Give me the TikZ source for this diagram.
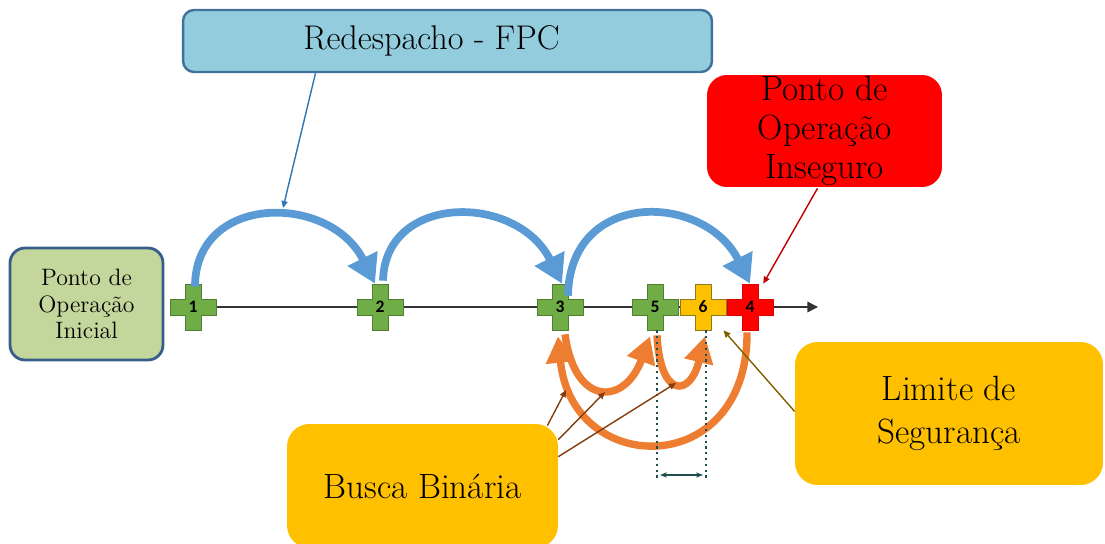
\documentclass[tikz,border=0pt]{standalone}
\usepackage{fontspec}
\newfontfamily\crossfont{Carlito}
\usepackage{tikz}
\usetikzlibrary{arrows.meta,calc,backgrounds}
\definecolor{FpcFill}{HTML}{93CDDD}
\definecolor{FpcDraw}{HTML}{41719C}
\definecolor{IniFill}{HTML}{C3D69B}
\definecolor{IniDraw}{HTML}{385D8A}
\definecolor{UnsafeRed}{HTML}{FF0000}
\definecolor{GoldBox}{HTML}{FFC000}
\definecolor{CrossGreen}{HTML}{70AD47}
\definecolor{CrossGreenDk}{HTML}{507E32}
\definecolor{CrossGold}{HTML}{FFC000}
\definecolor{CrossGoldDk}{HTML}{8C7A1E}
\definecolor{CrossRed}{HTML}{FF0000}
\definecolor{CrossRedDk}{HTML}{E00000}
\definecolor{ArcBlue}{HTML}{5B9BD5}
\definecolor{ArcOrange}{HTML}{ED7D31}
\definecolor{PtrBrown}{HTML}{843C0C}
\definecolor{PtrOlive}{HTML}{7F6000}
\definecolor{PtrRed}{HTML}{C00000}
\definecolor{PtrBlue}{HTML}{2E75B6}
\definecolor{DotTeal}{HTML}{1F4E4F}

\begin{document}
\begin{tikzpicture}[x=0.02cm, y=-0.02cm,
  every node/.style={text=black},
  box/.style={rectangle, rounded corners=0.3cm, align=center, inner sep=0pt},
  fpcbox/.style={box, fill=FpcFill, draw=FpcDraw, line width=1.4pt, rounded corners=0.22cm,
    minimum width=10.58cm, minimum height=1.24cm, font=\fontsize{19.5}{22}\selectfont},
  inibox/.style={box, fill=IniFill, draw=IniDraw, line width=1.6pt,
    minimum width=3.06cm, minimum height=2.24cm, font=\fontsize{13.5}{15}\selectfont},
  unsbox/.style={box, fill=UnsafeRed, rounded corners=0.4cm,
    minimum width=4.7cm, minimum height=2.24cm, font=\fontsize{20}{22}\selectfont},
  goldbox/.style={box, fill=GoldBox, rounded corners=0.45cm, font=\fontsize{20}{24.5}\selectfont},
  crossshape/.style={line width=0.5pt},
  crossnum/.style={inner sep=0pt, minimum size=0.92cm, font=\crossfont\bfseries\fontsize{10}{10}\selectfont},
  axis/.style={-{Triangle[width=6pt,length=6pt]}, line width=0.8pt, draw=black!80},
  bluearc/.style={-{Triangle[width=18pt,length=16pt]}, line width=4.4pt, draw=ArcBlue},
  orangearc/.style={-{Triangle[width=16pt,length=15pt]}, line width=4.2pt, draw=ArcOrange},
  pointer/.style={-{Triangle[width=3.5pt,length=4pt]}, line width=0.8pt},
  dots/.style={dotted, line width=1.3pt, draw=DotTeal},
  span/.style={{Stealth[length=4pt]}-{Stealth[length=4pt]}, line width=1pt, draw=DotTeal}
]
\useasboundingbox (0,0) rectangle (1105,544);

%% boxes
\node[fpcbox] (fpc) at (447.5,41) {Redespacho - FPC\hspace*{0.64cm}};
\node[inibox] (ini) at (86.5,304) {Ponto de\\Operação\\Inicial};
\node[unsbox] (uns) at (824.5,131) {Ponto de\\Operação\\Inseguro};
\node[goldbox, minimum width=6.16cm, minimum height=2.86cm] (lim) at (949,413.5) {Limite de\\Segurança};
\node[goldbox, minimum width=5.42cm, minimum height=2.48cm] (bb) at (422.5,486) {Busca Binária};

%% operating points on the axis
\foreach \n/\x/\cfill/\cdraw in {1/193/CrossGreen/CrossGreenDk, 2/380/CrossGreen/CrossGreenDk,
    3/560/CrossGreen/CrossGreenDk, 5/655/CrossGreen/CrossGreenDk,
    6/703/CrossGold/CrossGoldDk, 4/750/CrossRed/CrossRedDk} {
  \draw[crossshape, fill=\cfill, draw=\cdraw, shift={(\x,307)}]
    (-8,-23) -- (8,-23) -- (8,-8) -- (23,-8) -- (23,8) -- (8,8) -- (8,23)
    -- (-8,23) -- (-8,8) -- (-23,8) -- (-23,-8) -- (-8,-8) -- cycle;
  \node[crossnum] (c\n) at (\x,307) {\n};
}
\coordinate (axisend) at (818,307);
\begin{scope}[on background layer]
  \draw[axis] (c1.center) -- (axisend);
\end{scope}

%% redispatch steps (blue) and binary search (orange)
\draw[bluearc] ([shift={(2,3)}]c1.north) .. controls (195,193) and (330,193) .. ([shift={(-5,0)}]c2.north);
\draw[bluearc] ([shift={(3,-3)}]c2.north) .. controls (385,193) and (517,193) .. ([shift={(2,0)}]c3.north);
\draw[bluearc] ([shift={(8,12)}]c3.north) .. controls (570,188) and (705,193) .. (c4.north);
\draw[orangearc] ([shift={(-3,2)}]c4.south) .. controls (748,480) and (572,478) .. ([shift={(-2,6)}]c3.south);
\draw[orangearc] ([shift={(5,4)}]c3.south) .. controls (575,408) and (625,405) .. ([shift={(-5,6)}]c5.south);
\draw[orangearc] ([shift={(2,5)}]c5.south) .. controls (660,398) and (690,398) .. ([shift={(2,6)}]c6.south);

%% safety margin
\coordinate (d5) at (657,480);
\coordinate (d6) at (706,480);
\draw[dots] (d5 |- c5.south) -- (d5);
\draw[dots] (d6 |- c6.south) -- (d6);
\draw[span] ([shift={(3,-5)}]d5) -- ([shift={(-3,-5)}]d6);

%% callout pointers
\coordinate (tfpc) at (283,208);
\coordinate (p1) at (566,390);
\coordinate (p2) at (605,392);
\coordinate (p3) at (676,383);
\draw[pointer, draw=PtrBlue] ([shift={(-132,0)}]fpc.south) -- (tfpc);
\draw[pointer, draw=PtrRed] ([shift={(-7,1)}]uns.south) -- ([shift={(12,-14)}]c4);
\draw[pointer, draw=PtrOlive] ([shift={(0,-2)}]lim.west) -- ([shift={(9,11)}]c6);
\draw[pointer, draw=PtrBrown] ([shift={(-11,2)}]bb.north east) -- (p1);
\draw[pointer, draw=PtrBrown] ([shift={(0,16)}]bb.north east) -- (p2);
\draw[pointer, draw=PtrBrown] ([shift={(0,33)}]bb.north east) -- (p3);
\end{tikzpicture}
\end{document}
